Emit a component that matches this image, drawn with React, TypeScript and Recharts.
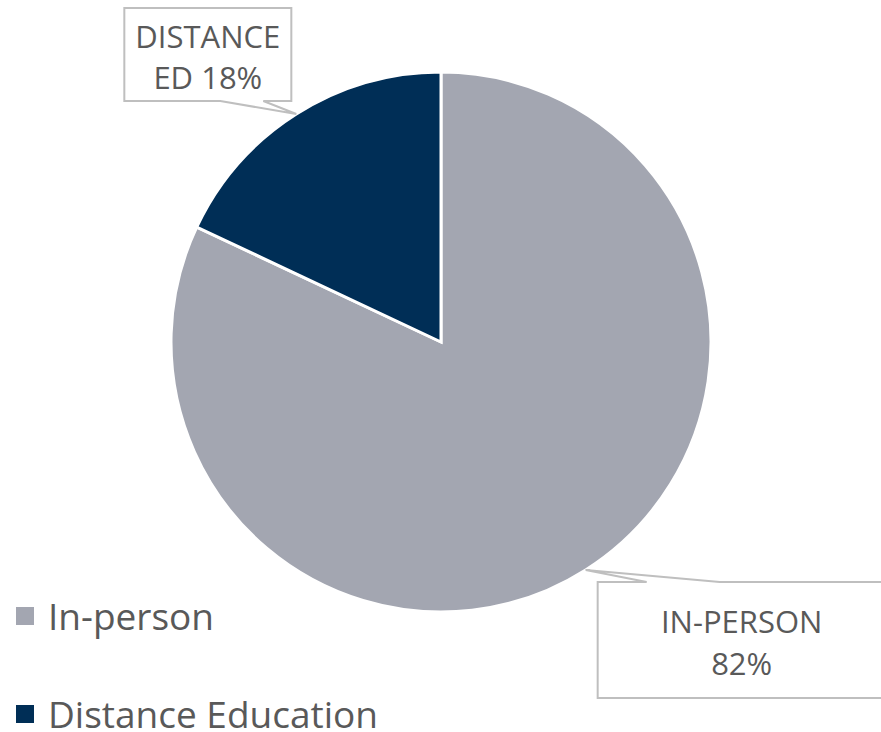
import { PieChart, Pie, Cell } from 'recharts'

const names = ['In-person', 'Distance Education']
const values = [82, 18]
const calloutLines = [
  ['IN-PERSON', '82%'],
  ['DISTANCE', 'ED 18%'],
]
const COLORS = ['#a3a6b1', '#002e56']

const data = names.map((name, i) => ({ name, value: values[i] }))

const RADIAN = Math.PI / 180
const TEXT = '#595959'
const BORDER = '#bfbfbf'

// Callout boxes are placed relative to the point on the slice edge.
const CALLOUT = [
  { l: 12, r: 300, t: 12, b: 128, p1: 61, p2: 134, base: 51, gap: 42, side: 'top' },
  { l: -172, r: -5, t: -106, b: -13, p1: -76, p2: -33, base: 40, gap: 41, side: 'bottom' },
]

function renderCallout(props: any) {
  const { cx, cy, midAngle, outerRadius, index } = props
  const tx = cx + outerRadius * Math.cos(-midAngle * RADIAN)
  const ty = cy + outerRadius * Math.sin(-midAngle * RADIAN)
  const c = CALLOUT[index]
  const L = tx + c.l, R = tx + c.r, T = ty + c.t, B = ty + c.b
  const P1 = tx + c.p1, P2 = tx + c.p2
  const d = c.side === 'top'
    ? `M${L},${T} L${P1},${T} L${tx},${ty} L${P2},${T} L${R},${T} L${R},${B} L${L},${B} Z`
    : `M${L},${T} L${R},${T} L${R},${B} L${P2},${B} L${tx},${ty} L${P1},${B} L${L},${B} Z`
  const mx = (L + R) / 2
  return (
    <g key={`callout-${index}`}>
      <path d={d} fill="#fff" stroke={BORDER} strokeWidth={2} />
      {calloutLines[index].map((line, j) => (
        <text key={j} x={mx} y={T + c.base + j * c.gap} textAnchor="middle" fill={TEXT}
          fontFamily="'Open Sans', sans-serif" fontSize={31}>{line}</text>
      ))}
    </g>
  )
}

// legend drawn as plain html so it doesn't push the pie around
function LegendList() {
  return (
    <div style={{ position: 'absolute', left: 16, top: 599 }}>
      {names.map((name, i) => (
        <div key={name} style={{ display: 'flex', alignItems: 'center', height: 34, marginBottom: 64 }}>
          <span style={{ width: 18, height: 18, background: COLORS[i], marginRight: 14, display: 'inline-block' }} />
          <span style={{ fontFamily: "'Open Sans', sans-serif", fontSize: 37, lineHeight: '34px', color: TEXT }}>{name}</span>
        </div>
      ))}
    </div>
  )
}

export default function App() {
  return (
    <div style={{ position: 'fixed', left: 0, top: 0, width: 881, height: 732, background: '#fff', overflow: 'hidden' }}>
      <PieChart width={881} height={732} margin={{ top: 0, right: 0, bottom: 0, left: 0 }}>
        <Pie
          data={data}
          dataKey="value"
          nameKey="name"
          cx={441}
          cy={342}
          outerRadius={270}
          startAngle={90}
          endAngle={-270}
          stroke="#fff"
          strokeWidth={3}
          label={renderCallout}
          labelLine={false}
          isAnimationActive={false}
        >
          {data.map((_, i) => <Cell key={i} fill={COLORS[i]} />)}
        </Pie>
      </PieChart>
      <LegendList />
    </div>
  )
}
